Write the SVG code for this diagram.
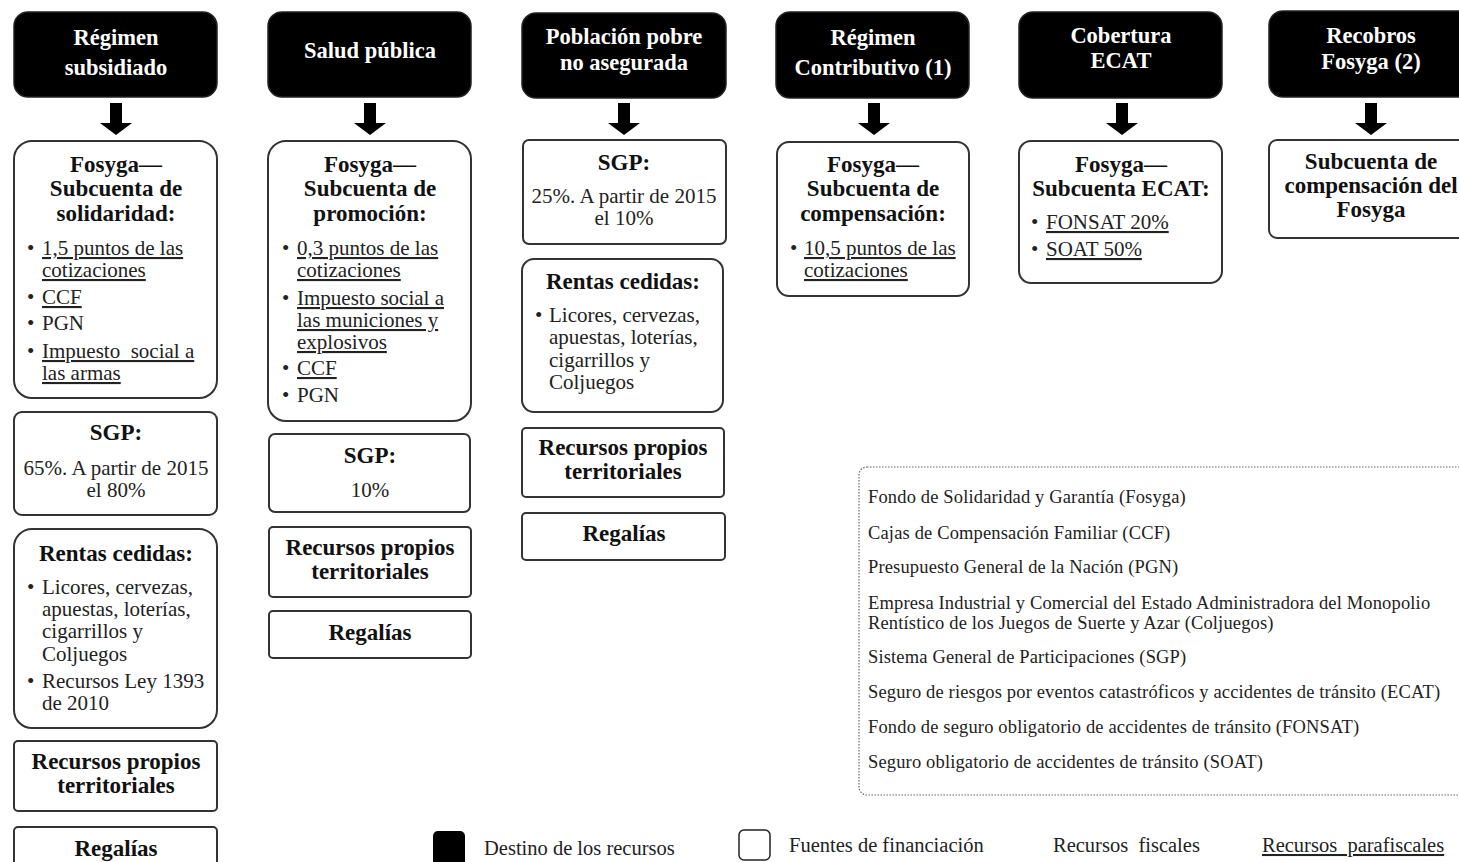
<svg xmlns="http://www.w3.org/2000/svg" width="1459" height="862" viewBox="0 0 1459 862">
<style>
.hdr{fill:#000;stroke:#222;stroke-width:1.5}
.box{fill:#fff;stroke:#333;stroke-width:2}
.ht{font-family:"Liberation Serif",serif;font-weight:bold;font-size:22.5px;fill:#fff;text-anchor:middle}
.bt{font-family:"Liberation Serif",serif;font-weight:bold;font-size:23px;fill:#111;text-anchor:middle}
.t{font-family:"Liberation Serif",serif;font-size:21px;fill:#222}
.tc{font-family:"Liberation Serif",serif;font-size:21px;fill:#222;text-anchor:middle}
.u{text-decoration:underline}
.lg{font-family:"Liberation Serif",serif;font-size:18.5px;letter-spacing:0.15px;fill:#222}
.lb{font-family:"Liberation Serif",serif;font-size:20.5px;fill:#222}
.arr{fill:#000}
</style>
<g id="connectors">
<polygon class="arr" points="110,103 122,103 122,123 132,123 116,135 100,123 110,123"/>
<polygon class="arr" points="364,103 376,103 376,123 386,123 370,135 354,123 364,123"/>
<polygon class="arr" points="618,103 630,103 630,123 640,123 624,135 608,123 618,123"/>
<polygon class="arr" points="868,103 880,103 880,123 890,123 874,135 858,123 868,123"/>
<polygon class="arr" points="1116,103 1128,103 1128,123 1138,123 1122,135 1106,123 1116,123"/>
<polygon class="arr" points="1365,103 1377,103 1377,123 1387,123 1371,135 1355,123 1365,123"/>
</g>

<g id="h1"><rect class="hdr" x="14" y="12" width="203" height="85" rx="14"/>
<text class="ht" x="116" y="45">Régimen</text><text class="ht" x="116" y="75">subsidiado</text></g>
<g id="h2"><rect class="hdr" x="268" y="12" width="203" height="85" rx="14"/>
<text class="ht" x="370" y="58">Salud pública</text></g>
<g id="h3"><rect class="hdr" x="522" y="13" width="204" height="85" rx="14"/>
<text class="ht" x="624" y="44">Población pobre</text><text class="ht" x="624" y="70">no asegurada</text></g>
<g id="h4"><rect class="hdr" x="776" y="12" width="193" height="86" rx="14"/>
<text class="ht" x="873" y="45">Régimen</text><text class="ht" x="873" y="75">Contributivo (1)</text></g>
<g id="h5"><rect class="hdr" x="1019" y="12" width="203" height="86" rx="14"/>
<text class="ht" x="1121" y="43">Cobertura</text><text class="ht" x="1121" y="68">ECAT</text></g>
<g id="h6"><rect class="hdr" x="1269" y="11" width="210" height="86" rx="14"/>
<text class="ht" x="1371" y="43">Recobros</text><text class="ht" x="1371" y="69">Fosyga (2)</text></g>

<g id="c1-fosyga"><rect class="box" x="14" y="141" width="203" height="257" rx="18"/>
<text class="bt" x="116" y="172">Fosyga—</text><text class="bt" x="116" y="196">Subcuenta de</text><text class="bt" x="116" y="221">solidaridad:</text>
<text class="t" x="27" y="255">•</text><text class="t u" x="42" y="255">1,5 puntos de las</text><text class="t u" x="42" y="277">cotizaciones</text>
<text class="t" x="27" y="304">•</text><text class="t u" x="42" y="304">CCF</text>
<text class="t" x="27" y="330">•</text><text class="t" x="42" y="330">PGN</text>
<text class="t" x="27" y="358">•</text><text class="t u" x="42" y="358" xml:space="preserve">Impuesto  social a</text><text class="t u" x="42" y="380">las armas</text></g>
<g id="c1-sgp"><rect class="box" x="14" y="412" width="203" height="103" rx="8"/>
<text class="bt" x="116" y="440">SGP:</text><text class="tc" x="116" y="475">65%. A partir de 2015</text><text class="tc" x="116" y="497">el 80%</text></g>
<g id="c1-rentas"><rect class="box" x="14" y="529" width="203" height="199" rx="18"/>
<text class="bt" x="116" y="561">Rentas cedidas:</text>
<text class="t" x="27" y="594">•</text><text class="t" x="42" y="594">Licores, cervezas,</text><text class="t" x="42" y="616">apuestas, loterías,</text><text class="t" x="42" y="638">cigarrillos y</text><text class="t" x="42" y="661">Coljuegos</text>
<text class="t" x="27" y="688">•</text><text class="t" x="42" y="688">Recursos Ley 1393</text><text class="t" x="42" y="710">de 2010</text></g>
<g id="c1-propios"><rect class="box" x="14" y="741" width="203" height="70" rx="4"/>
<text class="bt" x="116" y="769">Recursos propios</text><text class="bt" x="116" y="793">territoriales</text></g>
<g id="c1-regalias"><rect class="box" x="14" y="827" width="203" height="60" rx="4"/>
<text class="bt" x="116" y="856">Regalías</text></g>

<g id="c2-fosyga"><rect class="box" x="268" y="141" width="203" height="280" rx="18"/>
<text class="bt" x="370" y="172">Fosyga—</text><text class="bt" x="370" y="196">Subcuenta de</text><text class="bt" x="370" y="221">promoción:</text>
<text class="t" x="282" y="255">•</text><text class="t u" x="297" y="255">0,3 puntos de las</text><text class="t u" x="297" y="277">cotizaciones</text>
<text class="t" x="282" y="305">•</text><text class="t u" x="297" y="305">Impuesto social a</text><text class="t u" x="297" y="327">las municiones y</text><text class="t u" x="297" y="349">explosivos</text>
<text class="t" x="282" y="375">•</text><text class="t u" x="297" y="375">CCF</text>
<text class="t" x="282" y="402">•</text><text class="t" x="297" y="402">PGN</text></g>
<g id="c2-sgp"><rect class="box" x="269" y="434" width="201" height="78" rx="6"/>
<text class="bt" x="370" y="463">SGP:</text><text class="tc" x="370" y="497">10%</text></g>
<g id="c2-propios"><rect class="box" x="269" y="527" width="202" height="70" rx="4"/>
<text class="bt" x="370" y="555">Recursos propios</text><text class="bt" x="370" y="579">territoriales</text></g>
<g id="c2-regalias"><rect class="box" x="269" y="611" width="202" height="47" rx="4"/>
<text class="bt" x="370" y="640">Regalías</text></g>

<g id="c3-sgp"><rect class="box" x="523" y="140" width="203" height="104" rx="6"/>
<text class="bt" x="624" y="170">SGP:</text><text class="tc" x="624" y="203">25%. A partir de 2015</text><text class="tc" x="624" y="225">el 10%</text></g>
<g id="c3-rentas"><rect class="box" x="522" y="259" width="201" height="153" rx="12"/>
<text class="bt" x="623" y="289">Rentas cedidas:</text>
<text class="t" x="535" y="322">•</text><text class="t" x="549" y="322">Licores, cervezas,</text><text class="t" x="549" y="344">apuestas, loterías,</text><text class="t" x="549" y="367">cigarrillos y</text><text class="t" x="549" y="389">Coljuegos</text></g>
<g id="c3-propios"><rect class="box" x="522" y="428" width="202" height="69" rx="4"/>
<text class="bt" x="623" y="455">Recursos propios</text><text class="bt" x="623" y="479">territoriales</text></g>
<g id="c3-regalias"><rect class="box" x="522" y="513" width="203" height="47" rx="4"/>
<text class="bt" x="624" y="541">Regalías</text></g>

<g id="c4-fosyga"><rect class="box" x="777" y="142" width="192" height="154" rx="12"/>
<text class="bt" x="873" y="172">Fosyga—</text><text class="bt" x="873" y="196">Subcuenta de</text><text class="bt" x="873" y="221">compensación:</text>
<text class="t" x="790" y="255">•</text><text class="t u" x="804" y="255">10,5 puntos de las</text><text class="t u" x="804" y="277">cotizaciones</text></g>

<g id="c5-fosyga"><rect class="box" x="1019" y="141" width="203" height="142" rx="12"/>
<text class="bt" x="1121" y="172">Fosyga—</text><text class="bt" x="1121" y="196">Subcuenta ECAT:</text>
<text class="t" x="1031" y="229">•</text><text class="t u" x="1046" y="229">FONSAT 20%</text>
<text class="t" x="1031" y="256">•</text><text class="t u" x="1046" y="256">SOAT 50%</text></g>

<g id="c6-sub"><rect class="box" x="1269" y="140" width="210" height="98" rx="8"/>
<text class="bt" x="1371" y="169">Subcuenta de</text><text class="bt" x="1371" y="193">compensación del</text><text class="bt" x="1371" y="217">Fosyga</text></g>

<g id="glossary"><rect x="859" y="467" width="620" height="328" rx="8" fill="none" stroke="#666" stroke-width="1.2" stroke-dasharray="1.5 1.5"/>
<text class="lg" x="868" y="503">Fondo de Solidaridad y Garantía (Fosyga)</text>
<text class="lg" x="868" y="539">Cajas de Compensación Familiar (CCF)</text>
<text class="lg" x="868" y="573">Presupuesto General de la Nación (PGN)</text>
<text class="lg" x="868" y="609">Empresa Industrial y Comercial del Estado Administradora del Monopolio</text>
<text class="lg" x="868" y="629">Rentístico de los Juegos de Suerte y Azar (Coljuegos)</text>
<text class="lg" x="868" y="663">Sistema General de Participaciones (SGP)</text>
<text class="lg" x="868" y="698">Seguro de riesgos por eventos catastróficos y accidentes de tránsito (ECAT)</text>
<text class="lg" x="868" y="733">Fondo de seguro obligatorio de accidentes de tránsito (FONSAT)</text>
<text class="lg" x="868" y="768">Seguro obligatorio de accidentes de tránsito (SOAT)</text></g>

<g id="legend">
<rect x="433" y="831" width="32" height="40" rx="5" fill="#000"/>
<text class="lb" x="484" y="855">Destino de los recursos</text>
<rect x="739" y="830" width="31" height="30" rx="5" fill="#fff" stroke="#222" stroke-width="1.5"/>
<text class="lb" x="789" y="852">Fuentes de financiación</text>
<text class="lb" x="1053" y="852" xml:space="preserve">Recursos  fiscales</text>
<text class="lb u" x="1262" y="852" xml:space="preserve">Recursos  parafiscales</text>
</g>
</svg>
